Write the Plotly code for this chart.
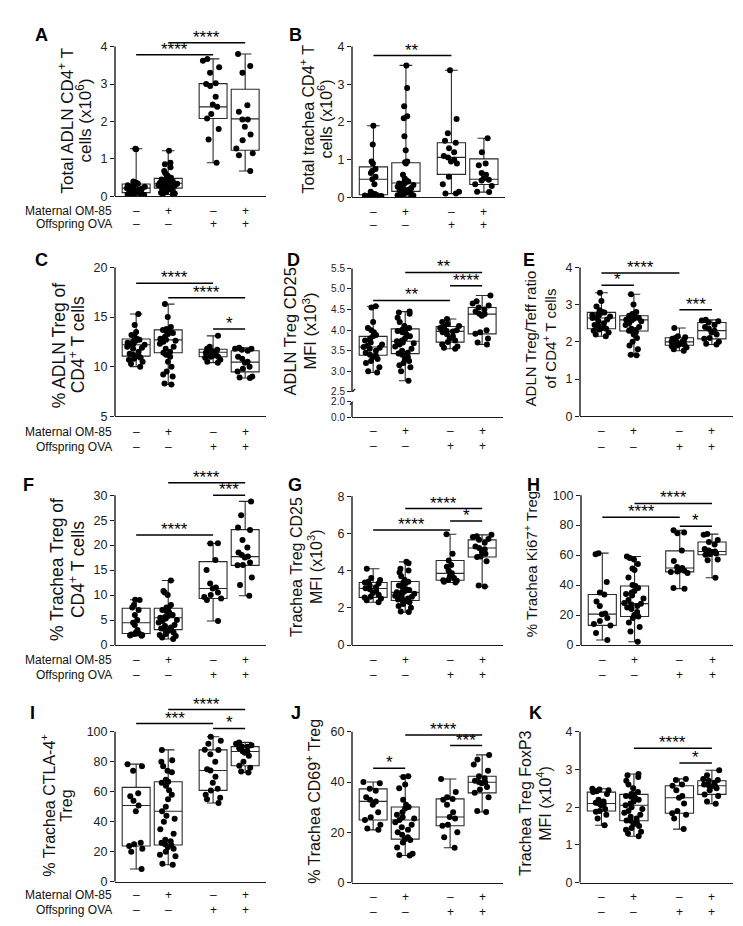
import plotly.graph_objects as go

W, H = 743, 926
FONT = "Liberation Sans, Arial, sans-serif"

# ---------------- data ----------------
POS = [0.0, 1.0, 2.4, 3.4]
MATERNAL = ["–", "+", "–", "+"]
OFFSPRING = ["–", "–", "+", "+"]

# A: Total ADLN CD4+ T cells (x10^6)
a1 = [1.27, 1.26, 0.40, 0.37, 0.36, 0.34, 0.33, 0.31, 0.30, 0.28, 0.26, 0.24, 0.22, 0.21, 0.20, 0.18, 0.16, 0.14, 0.12, 0.11, 0.09, 0.07, 0.05, 0.04, 0.03, 0.02]
a2 = [1.22, 0.90, 0.86, 0.78, 0.68, 0.62, 0.55, 0.50, 0.48, 0.47, 0.45, 0.44, 0.42, 0.40, 0.38, 0.37, 0.36, 0.35, 0.34, 0.32, 0.30, 0.28, 0.27, 0.25, 0.23, 0.22, 0.20, 0.18, 0.15, 0.12, 0.10, 0.08, 0.06, 0.05]
a3 = [3.67, 3.62, 3.45, 3.30, 3.02, 3.00, 2.95, 2.66, 2.45, 2.39, 2.20, 2.08, 1.80, 1.52, 0.90]
a4 = [3.80, 3.48, 3.30, 2.43, 2.26, 2.05, 2.05, 1.86, 1.65, 1.50, 1.28, 1.15, 1.10, 0.68]
A_Q1 = [0.10, 0.22, 2.08, 1.23]
A_MED = [0.22, 0.35, 2.39, 2.07]
A_Q3 = [0.33, 0.48, 3.01, 2.86]
A_SIG = [(0, 2, 3.78, "****"), (1, 3, 4.10, "****")]

# B: Total trachea CD4+ T cells (x10^6)
b1 = [1.90, 1.40, 0.95, 0.90, 0.75, 0.70, 0.65, 0.55, 0.48, 0.35, 0.15, 0.10, 0.09, 0.08, 0.07, 0.06, 0.05, 0.04, 0.04, 0.03]
b2 = [3.50, 2.90, 2.42, 2.15, 2.10, 1.62, 1.25, 0.95, 0.93, 0.90, 0.60, 0.50, 0.45, 0.42, 0.40, 0.38, 0.37, 0.35, 0.33, 0.30, 0.28, 0.25, 0.22, 0.20, 0.18, 0.16, 0.15, 0.12, 0.10, 0.08, 0.06, 0.05, 0.04, 0.03]
b3 = [3.37, 2.08, 1.70, 1.50, 1.45, 1.30, 1.20, 1.10, 1.06, 1.00, 0.95, 0.90, 0.55, 0.35, 0.15, 0.10, 0.10]
b4 = [1.57, 1.20, 0.90, 0.85, 0.65, 0.60, 0.50, 0.47, 0.45, 0.35, 0.30, 0.15, 0.14]
B_Q1 = [0.07, 0.16, 0.61, 0.34]
B_MED = [0.48, 0.38, 1.06, 0.48]
B_Q3 = [0.81, 0.92, 1.45, 1.02]
B_SIG = [(0, 2, 3.76, "**")]

# C: % ADLN Treg of CD4+ T cells
c1 = [15.3, 14.2, 13.5, 13.2, 13.0, 12.8, 12.7, 12.6, 12.5, 12.4, 12.3, 12.2, 12.2, 12.0, 11.9, 11.8, 11.5, 11.3, 11.2, 11.1, 11.0, 10.9, 10.8, 10.7, 10.5, 10.3, 10.0]
c2 = [16.3, 15.0, 14.0, 13.8, 13.7, 13.7, 13.6, 13.5, 13.4, 13.3, 13.0, 12.8, 12.7, 12.6, 12.5, 12.3, 12.0, 11.8, 11.5, 11.4, 11.2, 11.0, 10.5, 10.0, 9.5, 9.2, 9.0, 8.3, 8.2]
c3 = [13.1, 12.0, 11.8, 11.7, 11.6, 11.5, 11.4, 11.3, 11.2, 11.1, 11.0, 11.0, 10.9, 10.7, 10.5, 10.4]
c4 = [11.9, 11.8, 11.8, 11.7, 11.6, 11.0, 10.8, 10.5, 10.4, 10.0, 9.8, 9.5, 9.0, 8.9, 8.85]
C_Q1 = [11.06, 11.4, 11.0, 9.47]
C_MED = [12.2, 12.7, 11.45, 10.46]
C_Q3 = [12.78, 13.7, 11.75, 11.6]
C_SIG = [(0, 2, 18.4, "****"), (1, 3, 16.95, "****"), (2, 3, 13.78, "*")]

# D: ADLN Treg CD25 MFI (x10^3)
d1 = [4.58, 4.55, 4.20, 4.05, 4.00, 3.95, 3.88, 3.85, 3.80, 3.75, 3.70, 3.65, 3.62, 3.59, 3.57, 3.55, 3.50, 3.45, 3.40, 3.39, 3.35, 3.30, 3.25, 3.20, 3.10, 3.00, 2.97]
d2 = [4.45, 4.43, 4.40, 4.30, 4.20, 4.10, 4.05, 4.02, 4.00, 3.98, 3.95, 3.90, 3.85, 3.80, 3.75, 3.73, 3.70, 3.68, 3.65, 3.60, 3.55, 3.50, 3.45, 3.43, 3.40, 3.35, 3.30, 3.25, 3.20, 3.15, 3.10, 3.00, 2.77]
d3 = [4.27, 4.20, 4.15, 4.10, 4.08, 4.05, 4.00, 3.98, 3.97, 3.95, 3.90, 3.85, 3.80, 3.75, 3.71, 3.65, 3.60, 3.57, 3.55]
d4 = [4.84, 4.70, 4.65, 4.60, 4.55, 4.50, 4.45, 4.40, 4.39, 4.35, 4.00, 3.95, 3.91, 3.80, 3.70, 3.65]
D_Q1 = [3.39, 3.43, 3.71, 3.91]
D_MED = [3.59, 3.73, 3.97, 4.39]
D_Q3 = [3.85, 4.03, 4.09, 4.55]
D_SIG = [(0, 2, 4.72, "**"), (1, 3, 5.40, "**"), (2, 3, 5.08, "****")]

# E: ADLN Treg/Teff ratio of CD4+ T cells
e1 = [3.32, 3.10, 2.95, 2.85, 2.80, 2.79, 2.78, 2.75, 2.72, 2.70, 2.68, 2.65, 2.64, 2.60, 2.55, 2.50, 2.45, 2.42, 2.38, 2.36, 2.35, 2.33, 2.30, 2.25, 2.20, 2.15]
e2 = [3.28, 3.00, 2.80, 2.75, 2.72, 2.70, 2.68, 2.66, 2.65, 2.62, 2.60, 2.59, 2.58, 2.55, 2.50, 2.45, 2.40, 2.35, 2.32, 2.30, 2.29, 2.25, 2.20, 2.10, 2.00, 1.90, 1.80, 1.65, 1.64]
e3 = [2.37, 2.15, 2.12, 2.10, 2.08, 2.05, 2.02, 2.00, 2.00, 1.98, 1.95, 1.93, 1.92, 1.90, 1.88, 1.85, 1.80, 1.76]
e4 = [2.59, 2.57, 2.55, 2.52, 2.45, 2.40, 2.35, 2.30, 2.25, 2.20, 2.10, 2.08, 2.00, 1.95, 1.93]
E_Q1 = [2.35, 2.29, 1.91, 2.08]
E_MED = [2.64, 2.59, 2.00, 2.30]
E_Q3 = [2.79, 2.70, 2.11, 2.52]
E_SIG = [(0, 2, 3.85, "****"), (0, 1, 3.52, "*"), (2, 3, 2.86, "***")]

# F: % Trachea Treg of CD4+ T cells
f1 = [9.06, 9.0, 8.0, 7.5, 7.0, 6.0, 5.0, 4.46, 4.0, 3.0, 2.5, 2.3, 2.2, 2.1, 2.0, 1.9, 1.84]
f2 = [12.9, 10.8, 10.5, 10.0, 8.0, 7.5, 7.35, 7.0, 6.8, 6.5, 6.0, 5.8, 5.6, 5.45, 5.3, 5.0, 4.8, 4.5, 4.0, 3.8, 3.5, 3.3, 3.1, 3.0, 2.8, 2.5, 2.2, 2.0, 1.8, 1.5, 1.2]
f3 = [20.35, 20.3, 17.0, 15.0, 12.3, 11.5, 11.3, 10.5, 10.0, 9.6, 9.3, 9.0, 4.8]
f4 = [28.75, 26.0, 23.5, 23.0, 21.0, 19.5, 18.5, 18.0, 17.7, 17.5, 16.5, 16.0, 15.95, 13.5, 12.0, 9.85]
F_Q1 = [2.3, 3.09, 9.3, 15.95]
F_MED = [4.46, 5.45, 11.3, 17.7]
F_Q3 = [7.35, 7.35, 16.7, 23.1]
F_SIG = [(0, 2, 22.0, "****"), (1, 3, 32.5, "****"), (2, 3, 30.0, "***")]

# G: Trachea Treg CD25 MFI (x10^3)
g1 = [4.1, 3.6, 3.5, 3.4, 3.36, 3.3, 3.2, 3.1, 3.05, 3.0, 2.9, 2.8, 2.7, 2.6, 2.56, 2.5, 2.4, 2.3]
g2 = [4.47, 4.4, 4.1, 4.0, 3.9, 3.7, 3.5, 3.4, 3.35, 3.3, 3.2, 3.1, 3.0, 2.95, 2.9, 2.85, 2.83, 2.8, 2.75, 2.7, 2.65, 2.6, 2.55, 2.5, 2.45, 2.4, 2.39, 2.35, 2.3, 2.2, 2.1, 2.0, 1.8, 1.77]
g3 = [5.95, 4.9, 4.54, 4.3, 4.2, 4.0, 3.85, 3.7, 3.6, 3.5, 3.48, 3.45, 3.4, 3.36]
g4 = [5.92, 5.85, 5.8, 5.7, 5.65, 5.5, 5.3, 5.21, 5.15, 5.0, 4.9, 4.75, 4.73, 4.5, 3.2, 3.14]
G_Q1 = [2.56, 2.39, 3.48, 4.73]
G_MED = [3.04, 2.83, 3.85, 5.21]
G_Q3 = [3.36, 3.41, 4.54, 5.65]
G_SIG = [(0, 2, 6.18, "****"), (1, 3, 7.33, "****"), (2, 3, 6.66, "*")]

# H: % Trachea Ki67+ Treg
h1 = [61.3, 60.5, 42.0, 35.0, 33.7, 29.0, 26.0, 21.0, 20.6, 18.0, 16.0, 14.0, 13.1, 8.0, 3.3]
h2 = [59.1, 58.0, 57.0, 54.0, 51.0, 50.0, 45.0, 40.0, 39.4, 38.0, 36.0, 35.0, 34.0, 33.0, 31.0, 30.0, 28.0, 27.6, 27.0, 26.0, 25.0, 24.0, 22.0, 20.0, 19.0, 18.0, 15.0, 12.0, 9.0, 2.2]
h3 = [76.6, 75.0, 74.5, 63.0, 56.0, 52.0, 51.4, 50.0, 49.5, 49.0, 48.8, 48.0, 38.0, 37.6]
h4 = [74.0, 73.5, 70.0, 68.7, 67.0, 64.0, 63.0, 62.4, 62.0, 61.0, 60.5, 60.2, 57.0, 56.5, 44.9]
H_Q1 = [13.1, 19.0, 48.8, 60.2]
H_MED = [20.6, 27.6, 51.4, 62.4]
H_Q3 = [33.7, 39.4, 62.8, 68.7]
H_SIG = [(0, 2, 85.3, "****"), (1, 3, 94.5, "****"), (2, 3, 79.2, "*")]

# I: % Trachea CTLA-4+ Treg
i1 = [78.4, 77.0, 74.0, 59.0, 57.0, 54.0, 50.8, 47.0, 26.0, 25.0, 23.8, 22.0, 20.0, 8.4]
i2 = [87.9, 81.0, 80.0, 77.0, 74.0, 73.0, 68.0, 66.7, 66.0, 64.0, 61.0, 58.0, 55.0, 50.0, 47.0, 44.0, 42.0, 40.0, 35.0, 32.0, 28.0, 27.0, 26.0, 25.0, 24.5, 23.0, 22.0, 20.0, 18.0, 17.0, 12.0, 11.3]
i3 = [96.7, 94.0, 92.0, 88.0, 87.9, 85.0, 80.0, 75.0, 74.2, 70.0, 66.0, 62.0, 60.9, 58.0, 56.0, 55.0, 52.5]
i4 = [92.9, 92.0, 91.0, 90.1, 90.0, 89.0, 87.0, 86.8, 86.0, 84.0, 80.0, 77.3, 76.0, 73.5, 72.8]
I_Q1 = [23.8, 24.5, 60.9, 77.3]
I_MED = [50.8, 47.0, 74.2, 86.8]
I_Q3 = [62.9, 66.7, 87.9, 90.1]
I_SIG = [(0, 2, 105.5, "***"), (1, 3, 114.8, "****"), (2, 3, 102.2, "*")]

# J: % Trachea CD69+ Treg
j1 = [40.0, 39.5, 37.3, 36.5, 34.0, 33.0, 32.3, 31.0, 28.0, 26.0, 24.9, 23.0, 21.5, 21.0]
j2 = [42.3, 42.0, 39.0, 37.5, 33.0, 31.0, 30.1, 29.5, 28.0, 27.0, 26.0, 25.5, 24.9, 24.0, 23.0, 22.0, 21.0, 20.0, 19.0, 18.0, 17.3, 17.0, 16.0, 14.0, 11.5, 11.0, 10.8]
j3 = [41.2, 36.0, 34.0, 33.3, 33.0, 31.0, 28.0, 26.1, 25.5, 23.0, 22.6, 20.0, 18.0, 13.9]
j4 = [50.8, 49.0, 47.0, 44.5, 42.3, 41.5, 40.5, 40.0, 39.9, 39.5, 38.0, 37.0, 35.7, 34.0, 28.5, 28.1]
J_Q1 = [24.9, 17.3, 22.6, 35.7]
J_MED = [32.3, 24.9, 26.1, 39.9]
J_Q3 = [37.3, 30.1, 33.3, 42.3]
J_SIG = [(0, 1, 45.5, "*"), (1, 3, 58.7, "****"), (2, 3, 54.5, "***")]

# K: Trachea Treg FoxP3 MFI (x10^4)
k1 = [2.49, 2.47, 2.45, 2.42, 2.40, 2.35, 2.20, 2.15, 2.12, 2.10, 2.08, 2.05, 1.95, 1.90, 1.88, 1.80, 1.70, 1.52]
k2 = [2.88, 2.85, 2.80, 2.70, 2.60, 2.50, 2.40, 2.35, 2.34, 2.30, 2.28, 2.25, 2.20, 2.15, 2.10, 2.05, 2.00, 1.95, 1.90, 1.85, 1.80, 1.75, 1.70, 1.65, 1.64, 1.60, 1.55, 1.50, 1.45, 1.40, 1.35, 1.30, 1.23]
k3 = [2.75, 2.72, 2.60, 2.57, 2.45, 2.30, 2.25, 2.10, 1.90, 1.84, 1.80, 1.70, 1.42]
k4 = [2.98, 2.85, 2.75, 2.72, 2.70, 2.65, 2.60, 2.58, 2.57, 2.55, 2.50, 2.45, 2.34, 2.30, 2.15, 2.09]
K_Q1 = [1.90, 1.64, 1.84, 2.34]
K_MED = [2.10, 2.05, 2.25, 2.57]
K_Q3 = [2.40, 2.34, 2.57, 2.70]
K_SIG = [(1, 3, 3.56, "****"), (2, 3, 3.17, "*")]

# ---------------- panel layout (pixel geometry) ----------------
panels = [
    dict(L="A", lp=(33, 21), data=[a1, a2, a3, a4], q=(A_Q1, A_MED, A_Q3), sig=A_SIG,
         x0=107, x1=258, pmin=185, ptop=33, ymin=0, ytop=4, ticks=[0, 1, 2, 3, 4], head=30,
         title=["Total ADLN CD4<sup>+</sup> T", "cells (x10<sup>6</sup>)"], tx=[-40, -22], ty=108, tfs=17,
         rows=True, rsh=(-15, -28)),
    dict(L="B", lp=(287, 21), data=[b1, b2, b3, b4], q=(B_Q1, B_MED, B_Q3), sig=B_SIG,
         x0=344, x1=497, pmin=186, ptop=33, ymin=0, ytop=4, ticks=[0, 1, 2, 3, 4], head=30,
         title=["Total trachea CD4<sup>+</sup> T", "cells (x10<sup>6</sup>)"], tx=[-35, -17], ty=107, tfs=16,
         rows=False, rsh=(-15, -28)),
    dict(L="C", lp=(33, 250), data=[c1, c2, c3, c4], q=(C_Q1, C_MED, C_Q3), sig=C_SIG,
         x0=107, x1=258, pmin=408, ptop=257, ymin=5, ytop=20, ticks=[5, 10, 15, 20], head=35,
         title=["% ADLN Treg of", "CD4<sup>+</sup> T cells"], tx=[-47, -29], ty=336, tfs=17.5,
         rows=True, rsh=(-16, -31)),
    dict(L="D", lp=(285, 250), data=[d1, d2, d3, d4], q=(D_Q1, D_MED, D_Q3), sig=D_SIG,
         x0=344, x1=495, pmin=383.3, ptop=258, ymin=2.5, ytop=5.5,
         ticks=[2.5, 3.0, 3.5, 4.0, 4.5, 5.0, 5.5], head=35,
         title=["ADLN Treg CD25", "MFI (x10<sup>3</sup>)"], tx=[-53, -33], ty=322, tfs=16.5,
         rows=False, rsh=(-14, -29),
         lower=dict(pmin=409, ptop=393.3, ymin=0, ytop=2.0, ticks=[0, 2.0])),
    dict(L="E", lp=(521, 250), data=[e1, e2, e3, e4], q=(E_Q1, E_MED, E_Q3), sig=E_SIG,
         x0=572, x1=725, pmin=408, ptop=257, ymin=0, ytop=4, ticks=[0, 1, 2, 3, 4], head=35,
         title=["ADLN Treg/Teff ratio", "of CD4<sup>+</sup> T cells"], tx=[-41, -22], ty=329, tfs=15,
         rows=False, rsh=(-15, -31)),
    dict(L="F", lp=(20, 478), data=[f1, f2, f3, f4], q=(F_Q1, F_MED, F_Q3), sig=F_SIG,
         x0=107, x1=258, pmin=640, ptop=488, ymin=0, ytop=30, ticks=[0, 5, 10, 15, 20, 25, 30], head=35,
         title=["% Trachea Treg of", "CD4<sup>+</sup> T cells"], tx=[-49, -29], ty=564, tfs=17.5,
         rows=True, rsh=(-15, -30)),
    dict(L="G", lp=(287, 478), data=[g1, g2, g3, g4], q=(G_Q1, G_MED, G_Q3), sig=G_SIG,
         x0=344, x1=495, pmin=640, ptop=489, ymin=0, ytop=8, ticks=[0, 2, 4, 6, 8], head=35,
         title=["Trachea Treg CD25", "MFI (x10<sup>3</sup>)"], tx=[-47, -28], ty=561, tfs=16,
         rows=False, rsh=(-15, -30)),
    dict(L="H", lp=(525, 478), data=[h1, h2, h3, h4], q=(H_Q1, H_MED, H_Q3), sig=H_SIG,
         x0=573, x1=725, pmin=640, ptop=488, ymin=0, ytop=100, ticks=[0, 20, 40, 60, 80, 100], head=35,
         title=["% Trachea Ki67<sup>+</sup> Treg"], tx=[-42], ty=558, tfs=15,
         rows=False, rsh=(-15, -30)),
    dict(L="I", lp=(24, 709), data=[i1, i2, i3, i4], q=(I_Q1, I_MED, I_Q3), sig=I_SIG,
         x0=107, x1=258, pmin=880, ptop=728, ymin=0, ytop=100, ticks=[0, 20, 40, 60, 80, 100], head=42,
         title=["% Trachea CTLA-4<sup>+</sup>", "Treg"], tx=[-58, -39], ty=803, tfs=16,
         rows=True, rsh=(-13, -28)),
    dict(L="J", lp=(288, 709), data=[j1, j2, j3, j4], q=(J_Q1, J_MED, J_Q3), sig=J_SIG,
         x0=344, x1=495, pmin=881, ptop=728, ymin=0, ytop=60, ticks=[0, 20, 40, 60], head=40,
         title=["% Trachea CD69<sup>+</sup> Treg"], tx=[-30], ty=799, tfs=16,
         rows=False, rsh=(-14, -29)),
    dict(L="K", lp=(527, 709), data=[k1, k2, k3, k4], q=(K_Q1, K_MED, K_Q3), sig=K_SIG,
         x0=572, x1=725, pmin=881, ptop=728, ymin=0, ytop=4, ticks=[0, 1, 2, 3, 4], head=40,
         title=["Trachea Treg FoxP3", "MFI (x10<sup>4</sup>)"], tx=[-45, -27], ty=801, tfs=16,
         rows=False, rsh=(-14, -29)),
]

XR = [-0.66, 4.05]
BOXW = 0.87
AX = "#1a1a1a"
TITLE_FIX = -9  # compensation for rotated-annotation placement


def fx(p):
    return p / W


def fy(p):
    return 1 - p / H


def fmt(v, dec):
    return f"{v:.{dec}f}" if dec else f"{v:g}"


fig = go.Figure()
layout = {}
shapes = []
ann = []

for idx, P in enumerate(panels):
    n = idx + 1
    xid = "x" if n == 1 else f"x{n}"
    yid = "y" if n == 1 else f"y{n}"
    xkey = "xaxis" if n == 1 else f"xaxis{n}"
    ykey = "yaxis" if n == 1 else f"yaxis{n}"
    scale = (P["pmin"] - P["ptop"]) / (P["ytop"] - P["ymin"])
    yext = P["ytop"] + P["head"] / scale
    lower = P.get("lower")
    dec = 1 if lower else 0
    low_id, low_key = "y12", "yaxis12"
    base_y = low_id if lower else yid
    tick_fs = 10 if lower else 12.5

    layout[xkey] = dict(domain=[fx(P["x0"]), fx(P["x1"])], range=XR, anchor=base_y,
                        showline=True, linecolor=AX, linewidth=1.4, ticks="",
                        showticklabels=False, showgrid=False, zeroline=False, fixedrange=True)
    layout[ykey] = dict(domain=[fy(P["pmin"]), fy(P["ptop"] - P["head"])], range=[P["ymin"], yext],
                        anchor=xid, showline=False, ticks="outside", ticklen=4, tickwidth=1.2,
                        tickcolor=AX, tickvals=P["ticks"], ticktext=[fmt(t, dec) for t in P["ticks"]],
                        tickfont=dict(size=tick_fs, color="#222", family=FONT),
                        showgrid=False, zeroline=False, fixedrange=True)
    shapes.append(dict(type="line", xref=f"{xid} domain", x0=0, x1=0, yref=yid,
                       y0=P["ymin"], y1=P["ytop"], line=dict(color=AX, width=1.4)))
    if lower:
        layout[low_key] = dict(domain=[fy(lower["pmin"]), fy(lower["ptop"])],
                               range=[lower["ymin"], lower["ytop"]], anchor=xid, showline=False,
                               ticks="outside", ticklen=4, tickwidth=1.2, tickcolor=AX,
                               tickvals=lower["ticks"], ticktext=[fmt(t, 1) for t in lower["ticks"]],
                               tickfont=dict(size=tick_fs, color="#222", family=FONT),
                               showgrid=False, zeroline=False, fixedrange=True)
        shapes.append(dict(type="line", xref=f"{xid} domain", x0=0, x1=0, yref=low_id,
                           y0=lower["ymin"], y1=lower["ytop"], line=dict(color=AX, width=1.4)))
        # axis-break marks
        for yr, yv in ((low_id, lower["ytop"]), (yid, P["ymin"])):
            shapes.append(dict(type="line", xref=f"{xid} domain", xsizemode="pixel", xanchor=0,
                               x0=-2, x1=3, yref=yr, ysizemode="pixel", yanchor=yv,
                               y0=-3, y1=3, line=dict(color=AX, width=1.3)))

    q1s, meds, q3s = P["q"]
    for g, vals in enumerate(P["data"]):
        fig.add_trace(go.Box(
            x=[POS[g]], q1=[q1s[g]], median=[meds[g]], q3=[q3s[g]],
            lowerfence=[min(vals)], upperfence=[max(vals)], orientation="v",
            width=BOXW, whiskerwidth=0.45, line=dict(color="#2a2a2a", width=1.1),
            fillcolor="rgba(255,255,255,0)", xaxis=xid, yaxis=yid,
            showlegend=False, hoverinfo="skip"))
        fig.add_trace(go.Box(
            x=[POS[g]] * len(vals), y=vals, orientation="v", boxpoints="all",
            jitter=0.75, pointpos=0, width=BOXW,
            line=dict(color="rgba(0,0,0,0)", width=0), fillcolor="rgba(0,0,0,0)",
            marker=dict(color="black", size=6), xaxis=xid, yaxis=yid,
            showlegend=False, hoverinfo="skip"))

    # significance bars
    for (i, j, lvl, stars) in P["sig"]:
        shapes.append(dict(type="line", xref=xid, yref=yid, x0=POS[i], x1=POS[j],
                           y0=lvl, y1=lvl, line=dict(color="black", width=1.5)))
        ann.append(dict(xref=xid, yref=yid, x=(POS[i] + POS[j]) / 2, y=lvl, text=stars,
                        showarrow=False, yanchor="bottom", yshift=-6,
                        font=dict(size=17, color="black", family=FONT)))

    # condition signs
    sign_ref = f"{base_y} domain"
    for g in range(4):
        for k, arr in enumerate((MATERNAL, OFFSPRING)):
            ann.append(dict(xref=xid, yref=sign_ref, x=POS[g], y=0, yshift=P["rsh"][k],
                            text=arr[g], showarrow=False, yanchor="middle",
                            font=dict(size=12, color="#111", family=FONT)))
    if P["rows"]:
        for k, lab in enumerate(("Maternal OM-85", "Offspring OVA")):
            ann.append(dict(xref=f"{xid} domain", yref=sign_ref, x=0, y=0, xshift=-1,
                            yshift=P["rsh"][k], text=lab, showarrow=False,
                            xanchor="right", yanchor="middle",
                            font=dict(size=12, color="#111", family=FONT)))

    # y-axis titles (one annotation per line)
    for line_txt, dx in zip(P["title"], P["tx"]):
        ann.append(dict(xref="paper", yref="paper", x=fx(P["x0"] + dx + TITLE_FIX), y=fy(P["ty"]),
                        text=line_txt, textangle=-90, showarrow=False,
                        xanchor="center", yanchor="middle",
                        font=dict(size=P["tfs"], color="#111", family=FONT)))

    # panel letter
    ann.append(dict(xref="paper", yref="paper", x=fx(P["lp"][0]), y=fy(P["lp"][1]),
                    text=f"<b>{P['L']}</b>", showarrow=False, xanchor="center", yanchor="middle",
                    font=dict(size=18, color="black", family=FONT)))

fig.update_layout(
    width=W, height=H, margin=dict(l=0, r=0, t=0, b=0),
    paper_bgcolor="white", plot_bgcolor="rgba(0,0,0,0)",
    font=dict(family=FONT, color="#111"),
    boxmode="overlay", showlegend=False,
    shapes=shapes, annotations=ann, **layout)

fig.write_html("out.html")
